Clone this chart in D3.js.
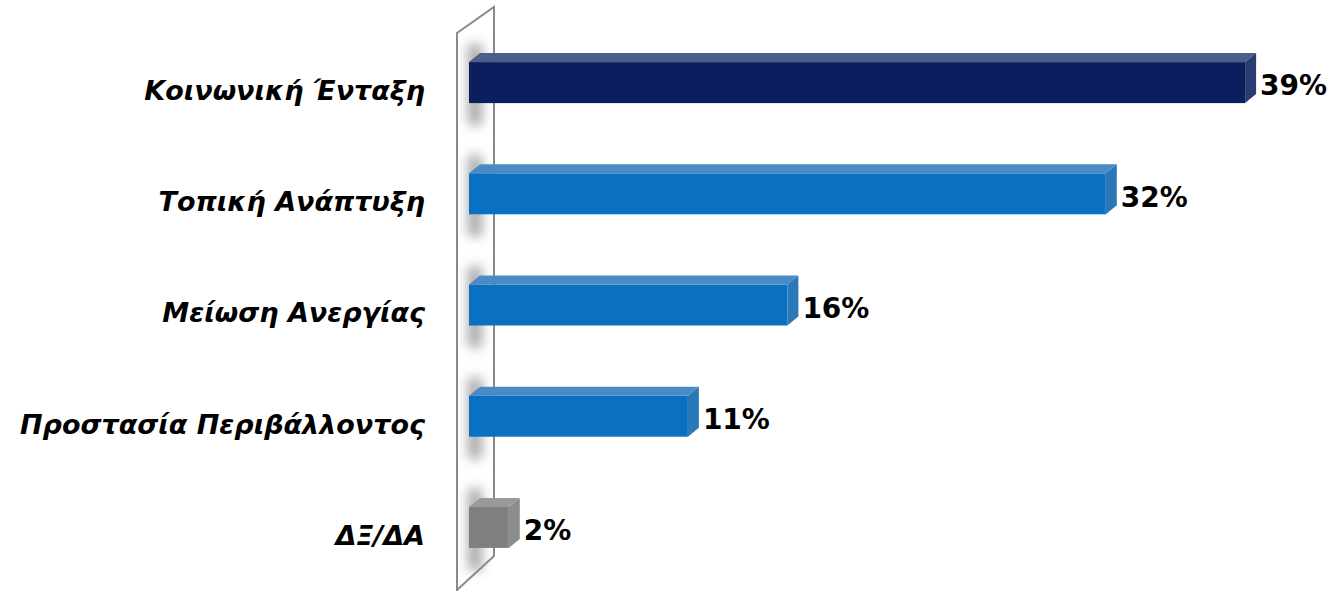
<!DOCTYPE html>
<html>
<head>
<meta charset="utf-8">
<script src="https://cdn.jsdelivr.net/npm/d3@7"></script>
<style>
  html, body { margin: 0; padding: 0; background: #fff; }
  svg { display: block; }
</style>
</head>
<body>
<div id="chart"></div>
<script>
// data
const categories = ["Κοινωνική Ένταξη", "Τοπική Ανάπτυξη", "Μείωση Ανεργίας", "Προστασία Περιβάλλοντος", "ΔΞ/ΔΑ"];
const values = [39, 32, 16, 11, 2];
const valueLabels = ["39%", "32%", "16%", "11%", "2%"];
const barColors = ["#0b1f5e", "#0a70c2", "#0a70c2", "#0a70c2", "#7f7f7f"];
const topColors = ["#4d5d89", "#4a8bc6", "#4a8bc6", "#4a8bc6", "#9a9a9a"];
const endColors = ["#2a3b70", "#2a78b8", "#2a78b8", "#2a78b8", "#8c8c8c"];

const width = 1331, height = 591;

const svg = d3.select("#chart")
  .append("svg")
  .attr("width", width)
  .attr("height", height);

const defs = svg.append("defs");
defs.append("filter")
  .attr("id", "blur")
  .attr("x", "-100%").attr("y", "-50%").attr("width", "300%").attr("height", "200%")
  .append("feGaussianBlur")
  .attr("stdDeviation", 6);

// scales
const x = d3.scaleLinear().domain([0, 40]).range([469, 1265]);
const y = d3.scalePoint().domain(categories).range([27, 583]).padding(0.5);
const barH = 41;
const dx = 11, dy = -9;

// back wall (3D axis plane)
svg.append("path")
  .attr("d", "M457,33 L494,7 L494,556 L457,590 Z M457,590 L457,600")
  .attr("fill", "none")
  .attr("stroke", "#8a8a8a")
  .attr("stroke-width", 2);

// soft shadows on wall
svg.append("g")
  .selectAll("rect")
  .data(categories)
  .join("rect")
  .attr("x", 468)
  .attr("y", d => y(d) - barH / 2 - 18)
  .attr("width", 14)
  .attr("height", barH + 40)
  .attr("fill", "#8a8a8a")
  .attr("opacity", 0.75)
  .attr("filter", "url(#blur)");

// bars
const bar = svg.append("g")
  .selectAll("g")
  .data(categories)
  .join("g");

bar.append("rect")
  .attr("x", x(0))
  .attr("y", d => y(d) - barH / 2)
  .attr("width", (d, i) => x(values[i]) - x(0))
  .attr("height", barH)
  .attr("fill", (d, i) => barColors[i]);

// top face
bar.append("path")
  .attr("d", (d, i) => {
    const t = y(d) - barH / 2, x0 = x(0), x1 = x(values[i]);
    return `M${x0},${t} L${x0 + dx},${t + dy} L${x1 + dx},${t + dy} L${x1},${t} Z`;
  })
  .attr("fill", (d, i) => topColors[i]);

// end face
bar.append("path")
  .attr("d", (d, i) => {
    const t = y(d) - barH / 2, x1 = x(values[i]);
    return `M${x1},${t} L${x1 + dx},${t + dy} L${x1 + dx},${t + dy + barH} L${x1},${t + barH} Z`;
  })
  .attr("fill", (d, i) => endColors[i]);

// value labels
bar.append("text")
  .attr("x", (d, i) => x(values[i]) + dx + 4)
  .attr("y", d => y(d) + 3)
  .attr("dy", "0.35em")
  .text((d, i) => valueLabels[i])
  .style("font-family", "'DejaVu Sans', sans-serif")
  .style("font-weight", "bold")
  .style("font-size", "28px")
  .style("fill", "#000");

// category labels
svg.append("g")
  .selectAll("text")
  .data(categories)
  .join("text")
  .attr("x", 425)
  .attr("y", d => y(d) + 8)
  .attr("dy", "0.35em")
  .attr("text-anchor", "end")
  .text(d => d)
  .style("font-family", "'DejaVu Sans', sans-serif")
  .style("font-weight", "bold")
  .style("font-style", "italic")
  .style("font-size", "27px")
  .style("fill", "#000");
</script>
</body>
</html>
